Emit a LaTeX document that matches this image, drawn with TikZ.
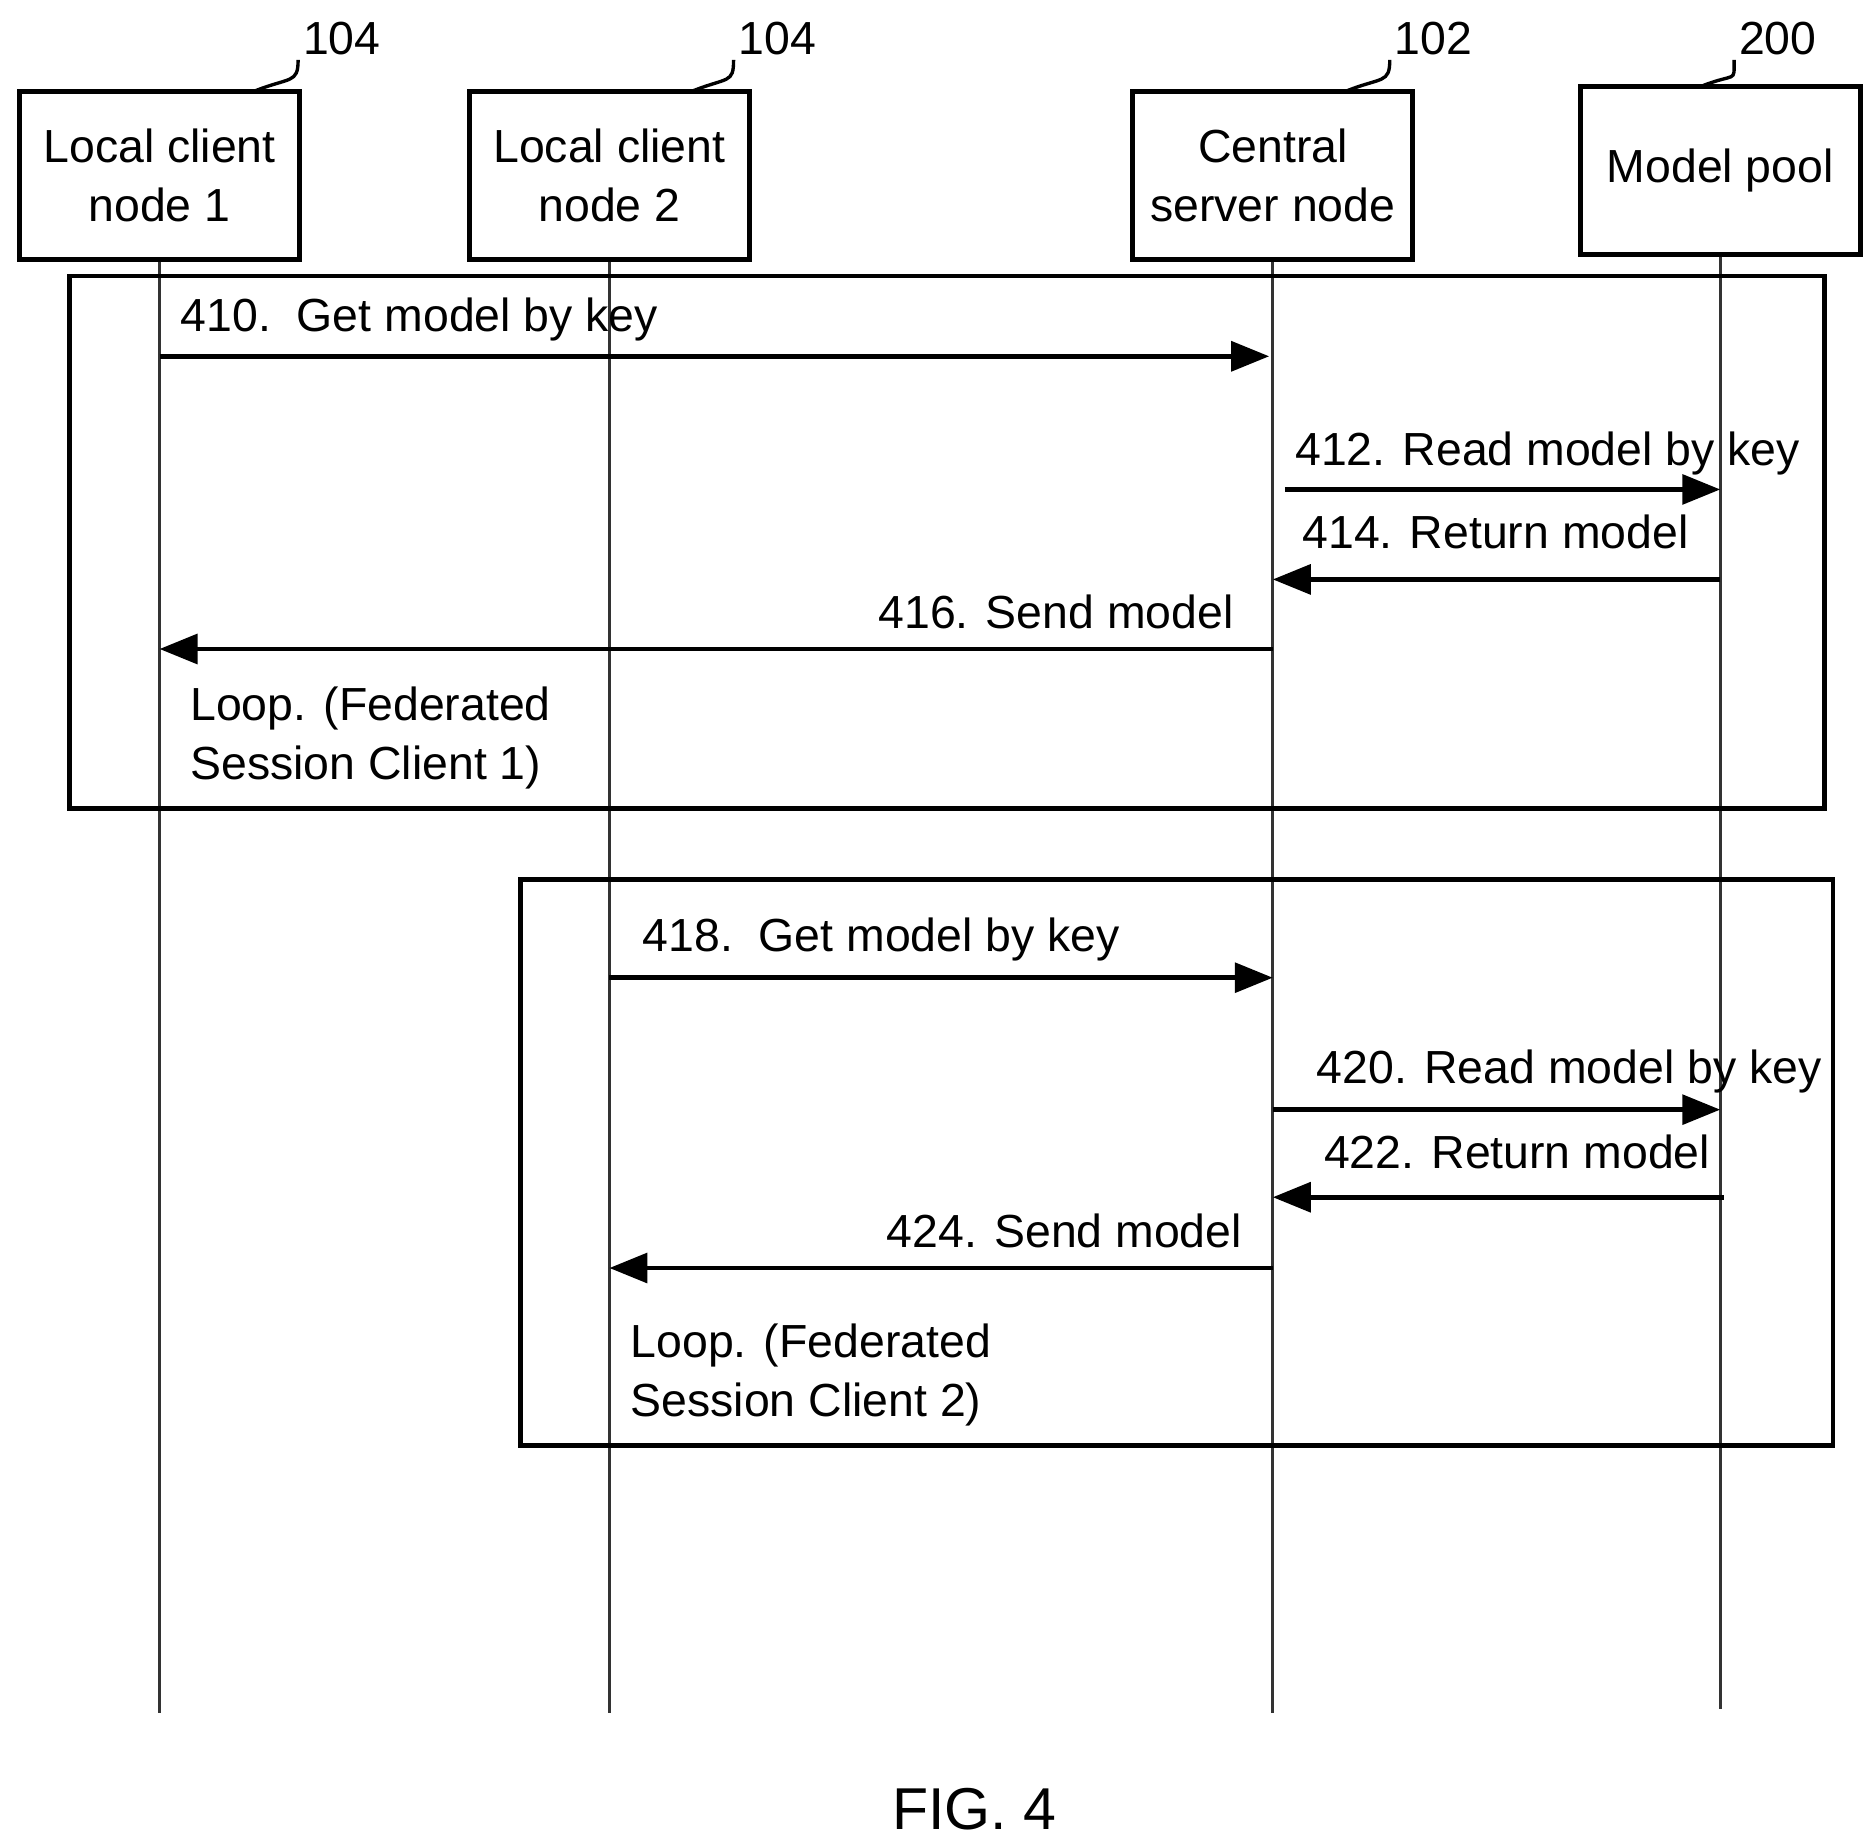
\documentclass[tikz,border=0pt]{standalone}
\usepackage{fontspec}
\setmainfont{Liberation Sans}
\usetikzlibrary{positioning,arrows.meta,calc}

\begin{document}
\begin{tikzpicture}
                    [x=0.01cm, y=-0.01cm,
                    actor/.style={rectangle, draw, line width=1.2pt,
                        minimum width=2.33cm, minimum height=1.4cm,
                        align=center, font=\fontsize{11}{14}\selectfont},
                    lifeline/.style={draw=black!80, line width=0.8pt},
                    frame/.style={draw, line width=1.1pt},
                    msg/.style={line width=1.1pt,
                        -{Triangle[length=9pt,width=7pt]}},
                    lbl/.style={font=\fontsize{11}{14}\selectfont, inner sep=0pt},
                    ref/.style={font=\fontsize{11}{14}\selectfont, inner sep=1pt},
                    lead/.style={line width=0.8pt}]
                    \useasboundingbox (0,0) rectangle (1563,1536);

                    % participants
                    \node[actor] at (133,146) (lc1) {Local client\\node 1};
                    \node[actor] at (508,146) (lc2) {Local client\\node 2};
                    \node[actor] at (1061,146) (csn) {Central\\server node};
                    \node[actor] at (1434,142) (pool) {Model pool};

                    % reference numerals
                    \node[ref] at (285,32) (r1) {104};
                    \node[ref] at (648,32) (r2) {104};
                    \node[ref] at (1195,32) (r3) {102};
                    \node[ref] at (1482,32) (r4) {200};
                    \coordinate (t1) at (212,76);
                    \coordinate (t2) at (577,76);
                    \coordinate (t3) at (1122,76);
                    \coordinate (t4) at (1418,72);
                    \foreach \r/\t in {r1/t1, r2/t2, r3/t3, r4/t4}
                        \draw[lead] (\t) .. controls +(30,-12) and +(0,20) .. (\r.south west);

                    % lifelines
                    \coordinate (e1) at (133,1428);
                    \coordinate (e2) at (508,1428);
                    \coordinate (e3) at (1061,1428);
                    \coordinate (e4) at (1434,1425);
                    \draw[lifeline] (lc1) -- (e1);
                    \draw[lifeline] (lc2) -- (e2);
                    \draw[lifeline] (csn) -- (e3);
                    \draw[lifeline] (pool) -- (e4);

                    % loop frames
                    \draw[frame] (58,230) rectangle (1521,674);
                    \draw[frame] (434,733) rectangle (1528,1205);

                    % messages, session 1
                    \coordinate (a1) at (133,297); \coordinate (b1) at (1058,297);
                    \coordinate (a2) at (1071,408); \coordinate (b2) at (1434,408);
                    \coordinate (a3) at (1434,483); \coordinate (b3) at (1061,483);
                    \coordinate (a4) at (1061,541); \coordinate (b4) at (133,541);
                    \draw[msg] (a1) -- (b1);
                    \draw[msg] (a2) -- (b2);
                    \draw[msg] (a3) -- (b3);
                    \draw[msg] (a4) -- (b4);
                    \node[lbl, anchor=west] at (150,266) (m410) {410.\ \ Get model by key};
                    \node[lbl, anchor=west] at (1079,378) (m412) {412. Read model by key};
                    \node[lbl, anchor=west] at (1085,443) (m414) {414. Return model};
                    \node[lbl, anchor=east] at (1029,510) (m416) {416. Send model};
                    \node[lbl, anchor=north west, align=left] at (158,572) (loop1)
                        {Loop. (Federated\\Session Client 1)};

                    % messages, session 2
                    \coordinate (a5) at (508,815); \coordinate (b5) at (1061,815);
                    \coordinate (a6) at (1061,925); \coordinate (b6) at (1434,925);
                    \coordinate (a7) at (1437,998); \coordinate (b7) at (1061,998);
                    \coordinate (a8) at (1061,1057); \coordinate (b8) at (508,1057);
                    \draw[msg] (a5) -- (b5);
                    \draw[msg] (a6) -- (b6);
                    \draw[msg] (a7) -- (b7);
                    \draw[msg] (a8) -- (b8);
                    \node[lbl, anchor=west] at (535,783) (m418) {418.\ \ Get model by key};
                    \node[lbl, anchor=west] at (1097,893) (m420) {420. Read model by key};
                    \node[lbl, anchor=west] at (1103,960) (m422) {422. Return model};
                    \node[lbl, anchor=east] at (1036,1026) (m424) {424. Send model};
                    \node[lbl, anchor=north west, align=left] at (525,1103) (loop2)
                        {Loop. (Federated\\Session Client 2)};

                    \node[font=\fontsize{14}{16}\selectfont] at (812,1508) (fig) {FIG. 4};
                \end{tikzpicture}
\end{document}
